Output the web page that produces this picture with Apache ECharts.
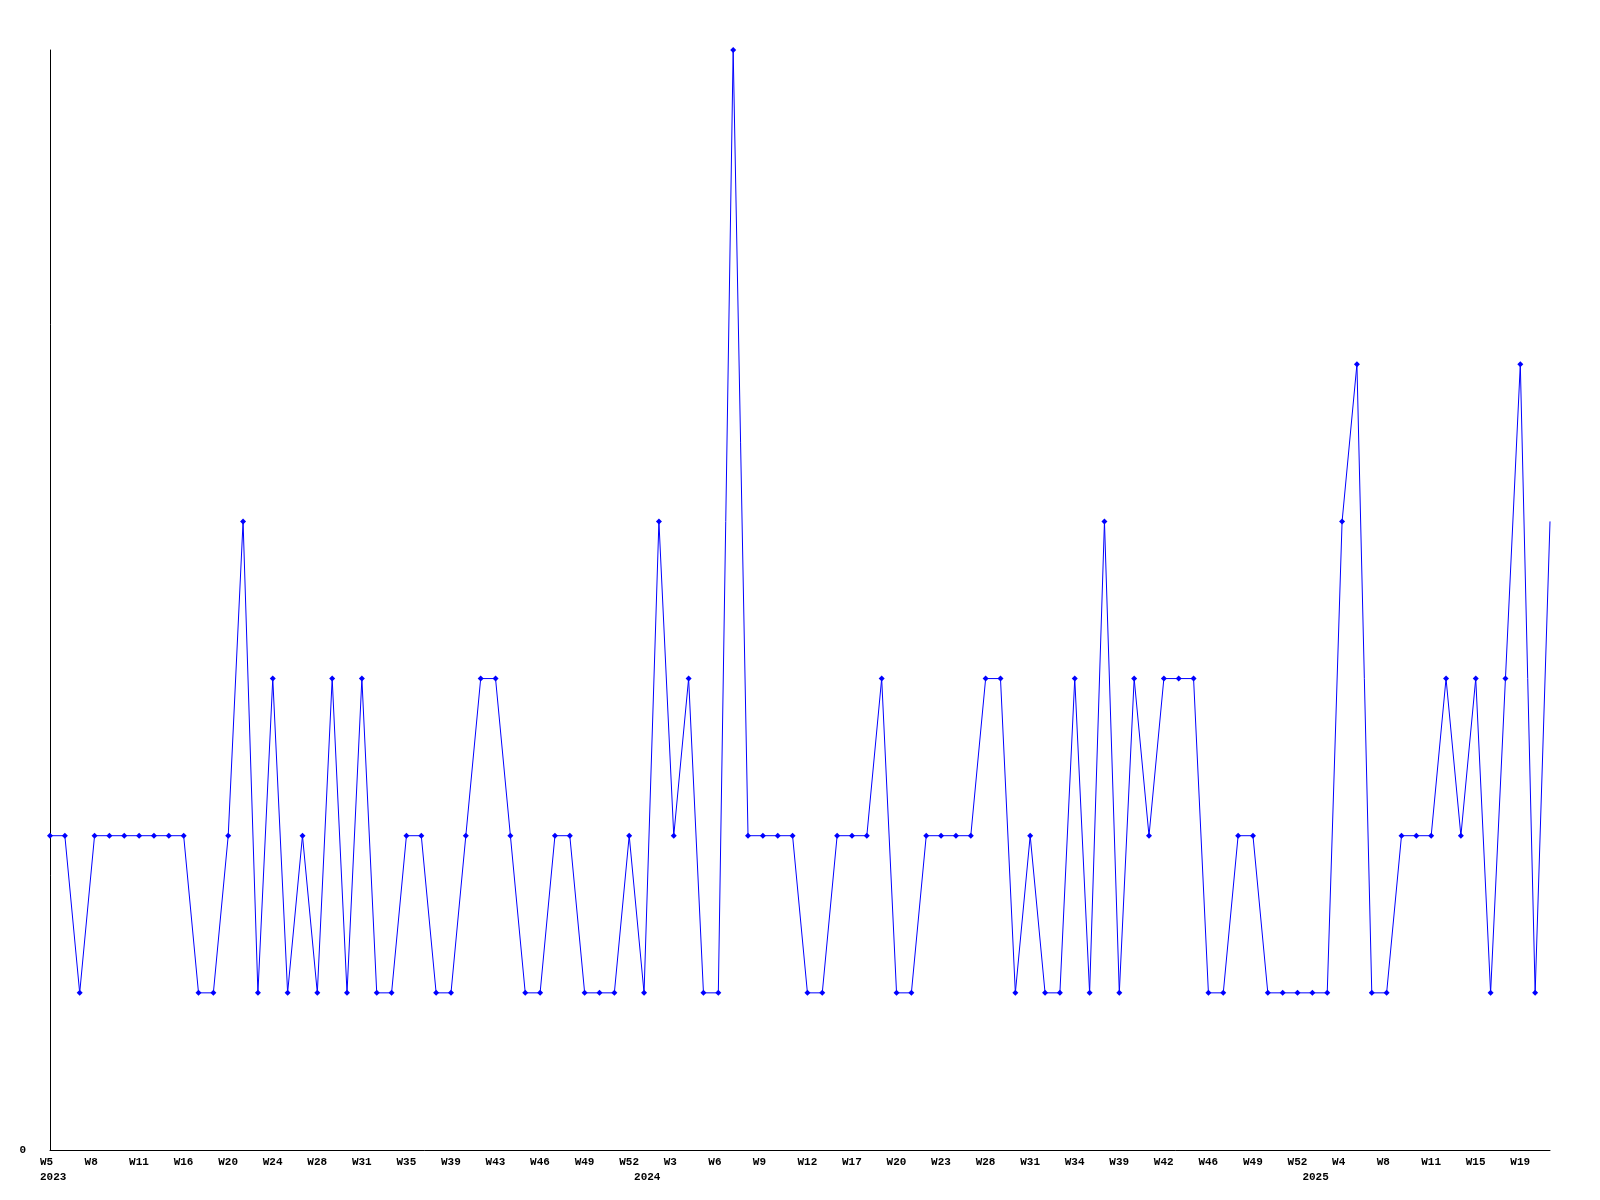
<!DOCTYPE html>
<html>
<head>
<meta charset="utf-8">
<script src="https://cdn.jsdelivr.net/npm/echarts@6/dist/echarts.min.js"></script>
<style>
html,body{margin:0;padding:0;background:#fff;}
#chart{width:1600px;height:1200px;}
</style>
</head>
<body>
<div id="chart"></div>
<script>
// Series values, one per point
const values = [
  2,2,1,2,2,2,2,2,2,2,
  1,1,2,4,1,3,1,2,1,3,
  1,3,1,1,2,2,1,1,2,3,
  3,2,1,1,2,2,1,1,1,2,
  1,4,2,3,1,1,7,2,2,2,
  2,1,1,2,2,2,3,1,1,2,
  2,2,2,3,3,1,2,1,1,3,
  1,4,1,3,2,3,3,3,1,1,
  2,2,1,1,1,1,1,4,5,1,
  1,2,2,2,3,2,3,1,3,5,
  1,4
];
// Week tick labels, shown at every third point
const weekLabels = [
  "W5","W8","W11","W16","W20","W24","W28","W31","W35","W39","W43","W46","W49","W52",
  "W3","W6","W9","W12","W17","W20","W23","W28","W31","W34","W39","W42","W46","W49","W52",
  "W4","W8","W11","W15","W19"
];
// Year labels and the point index they sit under
const yearText = ["2023","2024","2025"];
const yearIndex = [0, 40, 85];

const categories = values.map((v, i) => String(i));
const seriesData = values.map((v, i) => i === values.length - 1 ? {value: v, symbol: 'none'} : v);

const font = {fontFamily: '"Liberation Mono", "DejaVu Sans Mono", monospace', fontWeight: 'bold', fontSize: 11, color: '#000'};

const chart = echarts.init(document.getElementById('chart'), null, {renderer: 'canvas'});
chart.setOption({
  animation: false,
  backgroundColor: '#ffffff',
  grid: {left: 50, right: 50, top: 50, bottom: 50, containLabel: false},
  xAxis: [
    {
      type: 'category', data: categories, boundaryGap: false, position: 'bottom',
      axisLine: {show: true, lineStyle: {color: '#000', width: 1}},
      axisTick: {show: false},
      splitLine: {show: false},
      axisLabel: Object.assign({
        interval: 2, align: 'left', margin: 7, padding: [0, 0, 0, -10],
        formatter: (v, i) => weekLabels[Math.round(i / 3)] || ''
      }, font)
    },
    {
      type: 'category', data: categories, boundaryGap: false, position: 'bottom', offset: 0,
      axisLine: {show: false}, axisTick: {show: false}, splitLine: {show: false},
      axisLabel: Object.assign({
        interval: (i) => yearIndex.indexOf(i) >= 0, align: 'left', margin: 22, padding: [0, 0, 0, -10],
        formatter: (v, i) => { const k = yearIndex.indexOf(i); return k >= 0 ? yearText[k] : ''; }
      }, font)
    }
  ],
  yAxis: {
    type: 'value', min: 0, max: 7, interval: 1,
    axisLine: {show: true, lineStyle: {color: '#000', width: 1}},
    axisTick: {show: false},
    splitLine: {show: false},
    axisLabel: Object.assign({margin: 24, formatter: v => v === 0 ? '0' : ''}, font)
  },
  series: [{
    type: 'line', xAxisIndex: 0, data: seriesData,
    symbol: 'diamond', symbolSize: 6, showSymbol: true,
    itemStyle: {color: '#0000ff'},
    lineStyle: {color: '#0000ff', width: 1}
  }]
});
</script>
</body>
</html>
